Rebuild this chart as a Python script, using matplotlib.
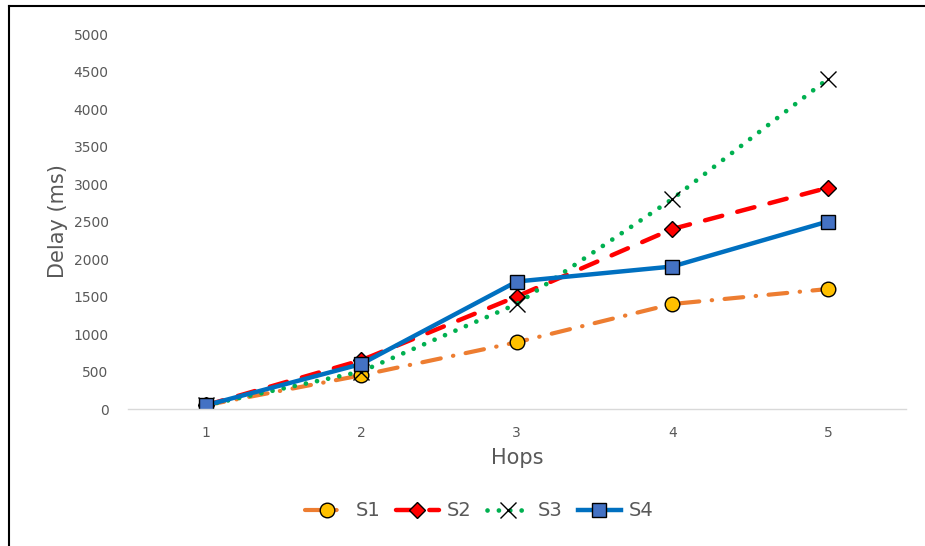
import matplotlib.pyplot as plt
from matplotlib.lines import Line2D

hops = [1, 2, 3, 4, 5]
s1 = [50, 450, 890, 1400, 1600]
s2 = [50, 650, 1500, 2400, 2950]
s3 = [50, 500, 1400, 2800, 4400]
s4 = [50, 600, 1700, 1900, 2500]
y_ticks = [0, 500, 1000, 1500, 2000, 2500, 3000, 3500, 4000, 4500, 5000]

gris = '#595959'

fig = plt.figure(figsize=(9.25, 5.46), dpi=100)
ax = fig.add_axes([0.1384, 0.2509, 0.8406, 0.6868])

ax.plot(hops, s1, color='#ED7D31', lw=3, dashes=(4.5, 3, 0.1, 3), dash_capstyle='round',
        marker='o', ms=10.5, mfc='#FFC000', mec='black', mew=1, label='S1')
ax.plot(hops, s2, color='#FF0000', lw=3.2, dashes=(4, 3.5), dash_capstyle='round',
        marker='D', ms=8.5, mfc='#FF0000', mec='black', mew=1, label='S2')
ax.plot(hops, s3, color='#00B050', lw=3.4, dashes=(0.01, 2.4), dash_capstyle='round',
        marker='x', ms=11, mec='black', mew=1, label='S3')
ax.plot(hops, s4, color='#0070C0', lw=3.2,
        marker='s', ms=10.5, mfc='#4472C4', mec='black', mew=1, label='S4')

ax.set_xlim(0.5, 5.5)
ax.set_ylim(0, 5000)
ax.set_xticks(hops)
ax.set_yticks(y_ticks)
ax.tick_params(length=0, labelsize=10, colors=gris)
ax.tick_params(axis='x', pad=12)
ax.tick_params(axis='y', pad=14)

for lado in ['top', 'right', 'left']:
    ax.spines[lado].set_visible(False)
ax.spines['bottom'].set_color('#D9D9D9')
ax.spines['bottom'].set_linewidth(1)

ax.set_xlabel('Hops', fontsize=15, color=gris, labelpad=6)
ax.set_ylabel('Delay (ms)', fontsize=15, color=gris, labelpad=4)

fig.legend(loc='center', bbox_to_anchor=(0.518, 1 - 511 / 546), ncol=4, frameon=False,
           fontsize=14, labelcolor=gris, handlelength=2.2, handletextpad=0.4,
           columnspacing=0.8)

# marco del grafico (solo izquierda y arriba)
fig.add_artist(Line2D([9 / 925, 9 / 925], [0, 1 - 6 / 546], color='black', lw=1.5,
                      transform=fig.transFigure))
fig.add_artist(Line2D([9 / 925, 1], [1 - 6 / 546, 1 - 6 / 546], color='black', lw=1.5,
                      transform=fig.transFigure))

fig.savefig('out.png', dpi=100)
